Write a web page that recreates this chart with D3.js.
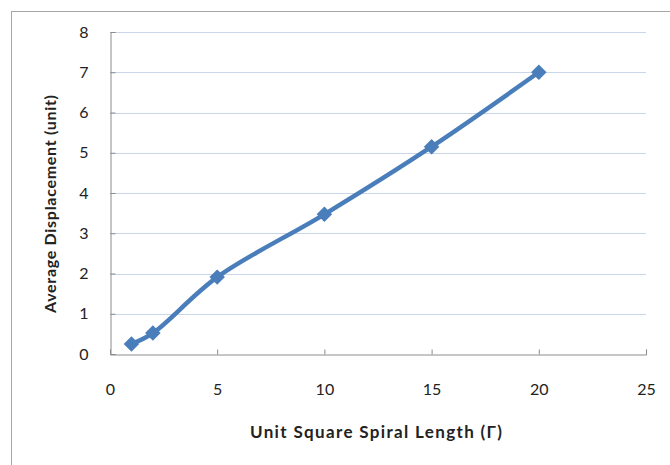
<!DOCTYPE html>
<html><head><meta charset="utf-8">
<script src="https://cdn.jsdelivr.net/npm/d3@7"></script>
<style>body{margin:0;background:#fff}svg{display:block}</style>
</head><body>
<svg id="c" width="670" height="465"></svg>
<script>
const xValues = [1, 2, 5, 10, 15, 20];
const yValues = [0.25, 0.52, 1.91, 3.47, 5.15, 7.0];
const xTicks = [0, 5, 10, 15, 20, 25];
const yTicks = [0, 1, 2, 3, 4, 5, 6, 7, 8];
const xTitle = "Unit Square Spiral  Length (Γ)";
const yTitle = "Average Displacement (unit)";

const svg = d3.select("#c");
const font = "Lato, 'Open Sans', sans-serif";
svg.append("rect").attr("x", 11.5).attr("y", 11.5).attr("width", 700).attr("height", 500)
  .attr("fill", "none").attr("stroke", "#a6a6a6").attr("stroke-width", 1);

const x = d3.scaleLinear().domain([0, 25]).range([110, 646]);
const y = d3.scaleLinear().domain([0, 8]).range([354, 32]);

svg.append("g").selectAll("line").data(yTicks.filter(d => d > 0)).join("line")
  .attr("x1", x(0)).attr("x2", x(25)).attr("y1", d => Math.round(y(d)) + 0.5).attr("y2", d => Math.round(y(d)) + 0.5)
  .attr("stroke", "#c9d6ea").attr("stroke-width", 1);

const ya = svg.append("g").attr("transform", `translate(${x(0) + 0.5},0)`)
  .call(d3.axisLeft(y).tickValues(yTicks).tickSize(-5).tickPadding(22));
ya.select(".domain").attr("stroke", "#8c8c8c");
ya.selectAll(".tick line").attr("stroke", "#8c8c8c");
ya.selectAll("text").attr("font-family", font).attr("font-size", 16).attr("fill", "#222");

const xa = svg.append("g").attr("transform", `translate(0,${Math.round(y(0)) + 0.5})`)
  .call(d3.axisBottom(x).tickValues(xTicks).tickSize(-5).tickPadding(29));
xa.select(".domain").attr("stroke", "#8c8c8c");
xa.selectAll(".tick line").attr("stroke", "#8c8c8c");
xa.selectAll("text").attr("font-family", font).attr("font-size", 16).attr("fill", "#222");

const data = xValues.map((v, i) => [v, yValues[i]]);
const line = d3.line().x(d => x(d[0])).y(d => y(d[1])).curve(d3.curveCatmullRom.alpha(0.5));
svg.append("path").attr("d", line(data)).attr("fill", "none")
  .attr("stroke", "#4a7ebb").attr("stroke-width", 4.5).attr("stroke-linejoin", "round");

svg.append("g").selectAll("path").data(data).join("path")
  .attr("d", d3.symbol(d3.symbolSquare, 120)())
  .attr("transform", d => `translate(${x(d[0])},${y(d[1])}) rotate(45)`)
  .attr("fill", "#4a7ebb");

svg.append("text").attr("x", 376).attr("y", 438).attr("text-anchor", "middle")
  .attr("font-family", font).attr("font-weight", "bold").attr("font-size", 17).attr("fill", "#222")
  .attr("textLength", 252).attr("lengthAdjust", "spacing")
  .text(xTitle);
svg.append("text").attr("transform", "translate(56,204) rotate(-90)").attr("text-anchor", "middle")
  .attr("font-family", font).attr("font-weight", "bold").attr("font-size", 16).attr("fill", "#222")
  .attr("textLength", 218).attr("lengthAdjust", "spacing")
  .text(yTitle);
</script>
</body></html>
